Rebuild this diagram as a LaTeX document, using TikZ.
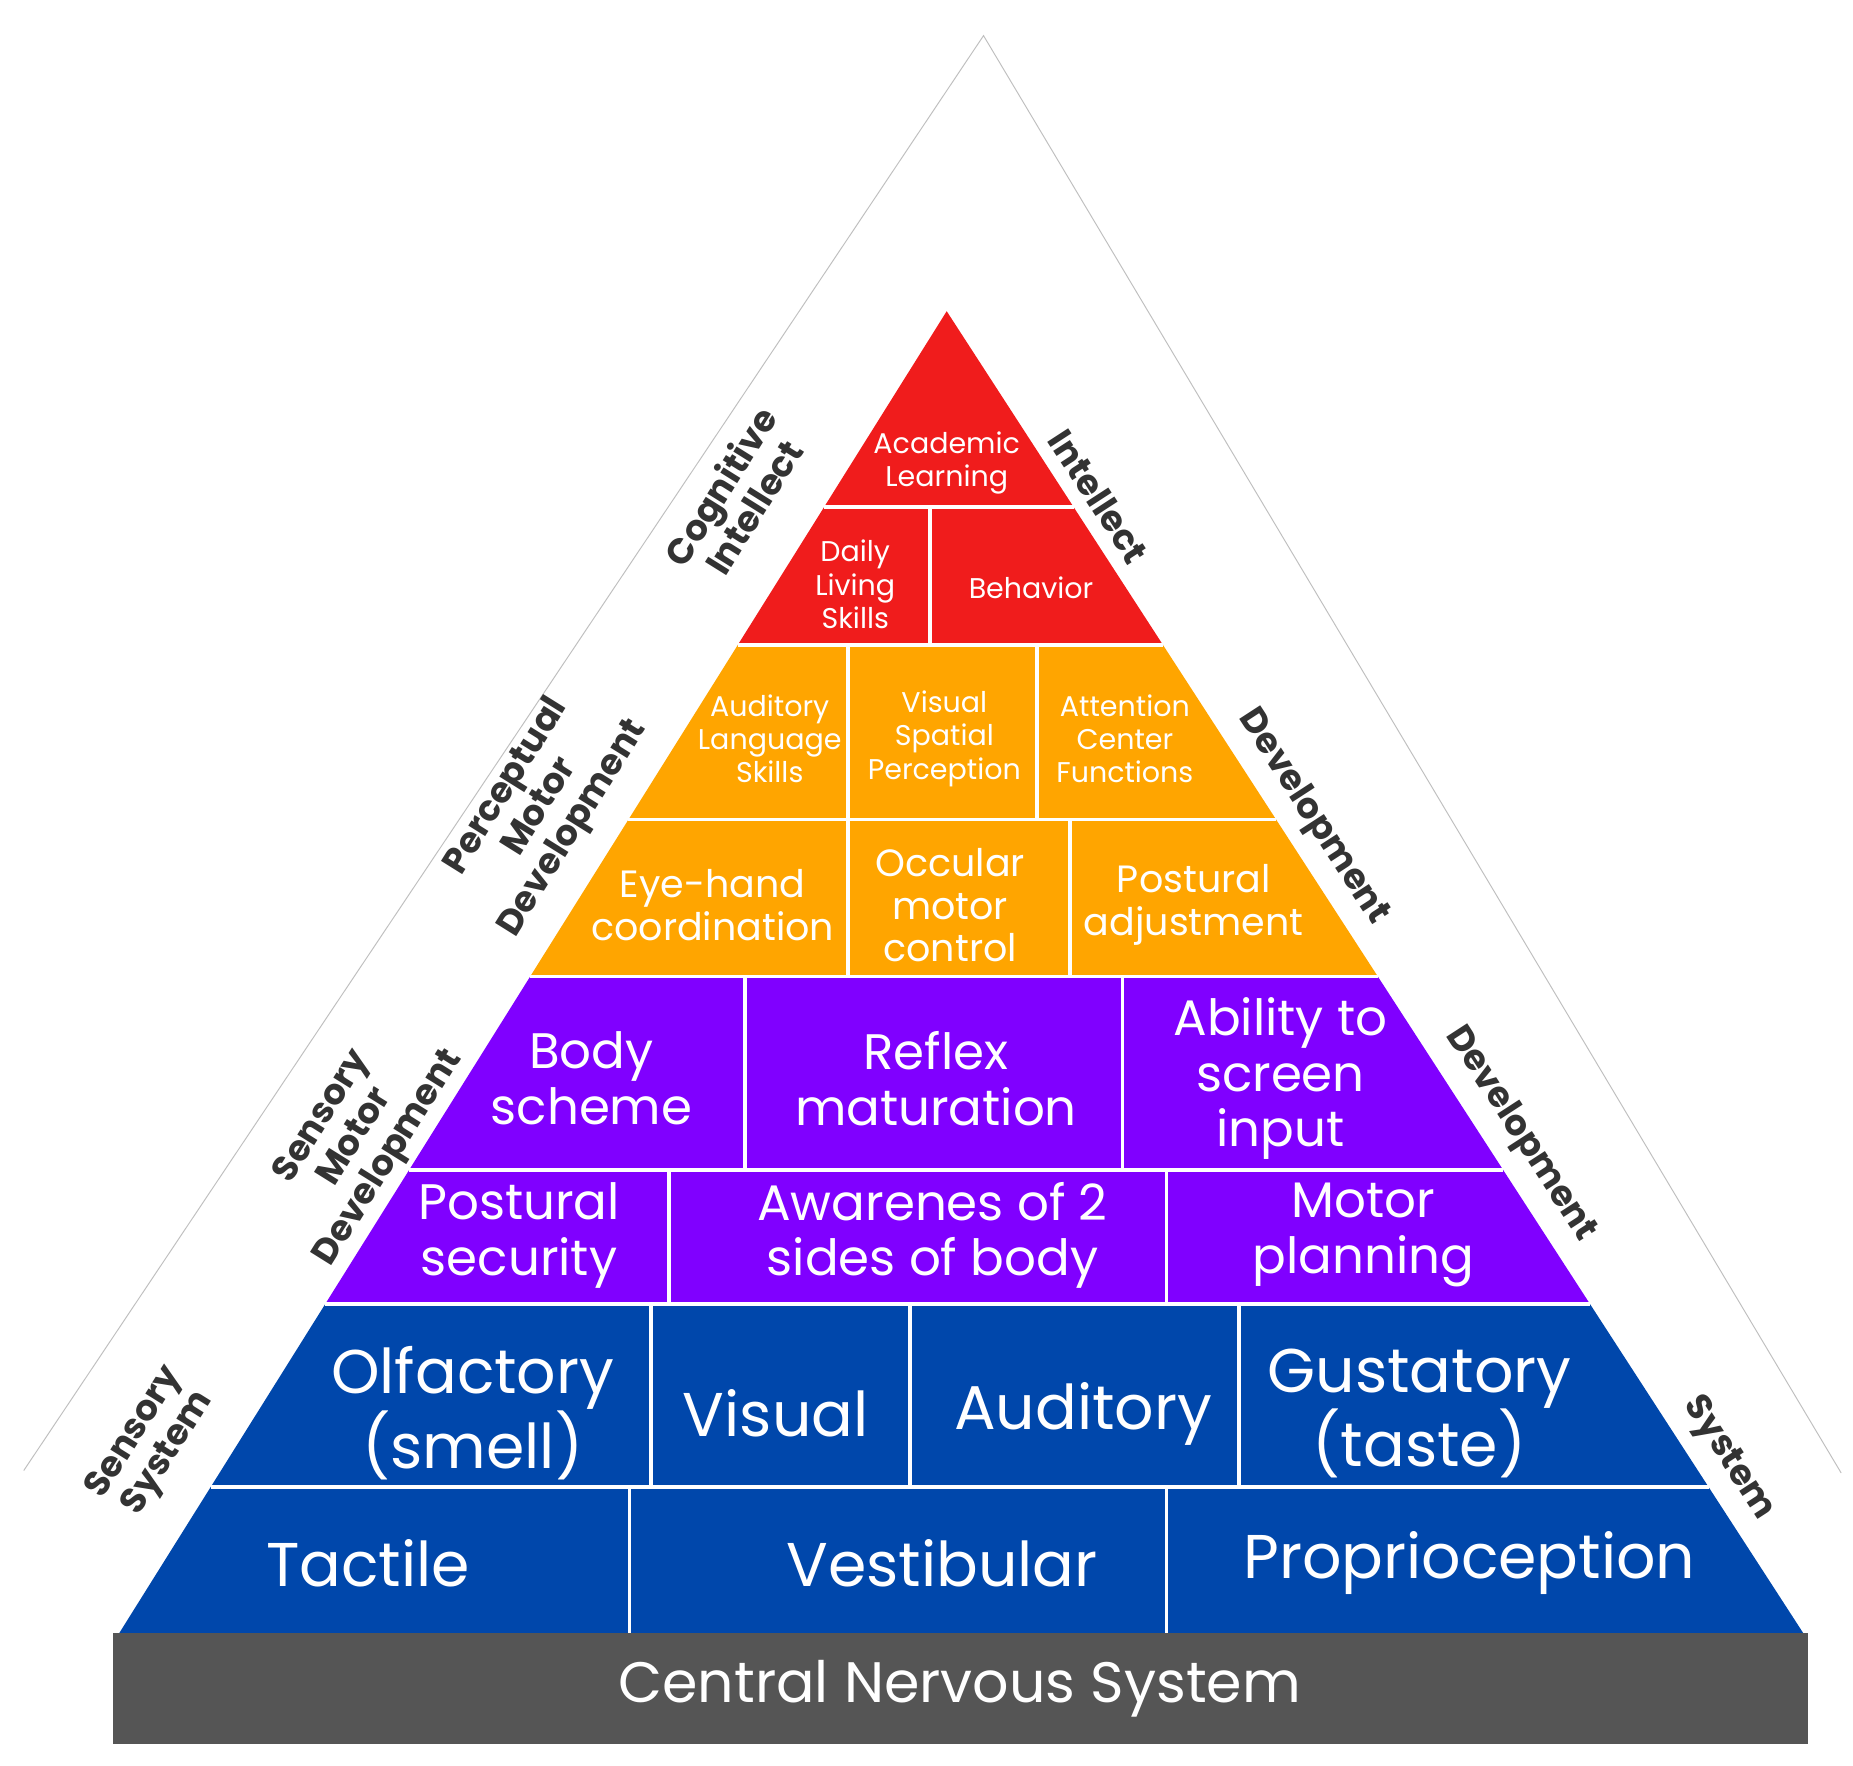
\documentclass[tikz,border=0pt]{standalone}
\usepackage{fontspec}
\setmainfont{Poppins}
\definecolor{cred}{RGB}{240,28,28}
\definecolor{corange}{RGB}{255,165,0}
\definecolor{cpurple}{RGB}{128,0,255}
\definecolor{cblue}{RGB}{0,71,171}
\definecolor{cgray}{RGB}{85,85,85}
\begin{document}
\begin{tikzpicture}[x=1pt,y=-1pt,
 cell/.style 2 args={text=white,align=center,font=\fontsize{#1}{#2}\selectfont},
 side/.style={text=black!80,align=center,font=\bfseries\fontsize{30}{33}\selectfont},
 sep/.style={white,line width=3pt}]
\useasboundingbox (0,0) rectangle (1560,1486);
\fill[white] (0,0) rectangle (1560,1486);
% faint outer triangle
\draw[black!25,line width=0.8pt] (20,1238) -- (828,30) -- (1550,1240);
% bands
\fill[cred] (797,262) -- (621.1,543) -- (979.1,543) -- cycle;
\fill[corange] (621.1,543) -- (446.4,822) -- (1159.9,822) -- (979.1,543) -- cycle;
\fill[cpurple] (446.4,822) -- (273.7,1098) -- (1338.7,1098) -- (1159.9,822) -- cycle;
\fill[cblue] (273.7,1098) -- (100.3,1375) -- (1518.2,1375) -- (1338.7,1098) -- cycle;
% horizontal separators
\draw[sep] (693.7,427) -- (903.9,427);
\draw[sep] (621.1,543) -- (979.1,543);
\draw[sep] (529.1,690) -- (1074.3,690);
\draw[sep] (446.4,822) -- (1159.9,822);
\draw[sep] (344.4,985) -- (1265.5,985);
\draw[sep] (273.7,1098) -- (1338.7,1098);
\draw[sep] (177.3,1252) -- (1438.5,1252);
% vertical separators
\draw[sep] (783,427) -- (783,543);
\draw[sep] (714,543) -- (714,690); \draw[sep] (873,543) -- (873,690);
\draw[sep] (714,690) -- (714,822); \draw[sep] (901,690) -- (901,822);
\draw[sep] (627,822) -- (627,985); \draw[sep] (945,822) -- (945,985);
\draw[sep] (563,985) -- (563,1098); \draw[sep] (982,985) -- (982,1098);
\draw[sep] (548,1098) -- (548,1252); \draw[sep] (766,1098) -- (766,1252); \draw[sep] (1043,1098) -- (1043,1252);
\draw[sep] (530,1252) -- (530,1375); \draw[sep] (982,1252) -- (982,1375);
% CNS bar
\fill[cgray] (95,1375) rectangle (1522,1468);
\node[cell={48}{55}] (cns) at (808,1422) {Central Nervous System};
% red
\node[cell={24}{28}] (acad) at (797,390) {Academic\\Learning};
\node[cell={24}{28}] (daily) at (720,492) {Daily\\Living\\Skills};
\node[cell={24}{28}] (beh) at (868,495) {Behavior};
% orange
\node[cell={24}{28}] (aud) at (648,622) {Auditory\\Language\\Skills};
\node[cell={24}{28}] (vsp) at (795,622) {Visual\\Spatial\\Perception};
\node[cell={24}{28}] (att) at (947,622) {Attention\\Center\\Functions};
\node[cell={32}{36}] (eye) at (600,762) {Eye-hand\\coordination};
\node[cell={32}{36}] (occ) at (800,762) {Occular\\motor\\control};
\node[cell={32}{36}] (post) at (1005,762) {Postural\\adjustment};
% purple
\node[cell={42}{47}] (body) at (498,908) {Body\\scheme};
\node[cell={42}{47}] (refl) at (788,908) {Reflex\\maturation};
\node[cell={42}{47}] (abil) at (1078,908) {Ability to\\screen\\input};
\node[cell={42}{47}] (psec) at (437,1040) {Postural\\security};
\node[cell={42}{47}] (awar) at (785,1040) {Awarenes of 2\\sides of body};
\node[cell={42}{47}] (motor) at (1148,1040) {Motor\\planning};
% blue
\node[cell={52}{56}] (olf) at (398,1190) {Olfactory\\(smell)};
\node[cell={52}{56}] (vis) at (653,1190) {Visual};
\node[cell={52}{56}] (audi) at (912,1190) {Auditory};
\node[cell={52}{56}] (gus) at (1195,1190) {Gustatory\\(taste)};
\node[cell={52}{56}] (tac) at (310,1316) {Tactile};
\node[cell={52}{56}] (vest) at (793,1316) {Vestibular};
\node[cell={52}{56}] (prop) at (1237,1316) {Proprioception};
% side labels
\node[side,rotate=58] (l1) at (620,418) {Cognitive\\Intellect};
\node[side,rotate=-57] (r1) at (925,418) {Intellect};
\node[side,rotate=58] (l2) at (455,680) {Perceptual\\Motor\\Development};
\node[side,rotate=-57] (r2) at (1105,688) {Development};
\node[side,rotate=58] (l3) at (300,958) {Sensory\\Motor\\Development};
\node[side,rotate=-57] (r3) at (1280,955) {Development};
\node[side,rotate=58] (l4) at (128,1215) {Sensory\\System};
\node[side,rotate=-57] (r4) at (1455,1228) {System};
\end{tikzpicture}
\end{document}
